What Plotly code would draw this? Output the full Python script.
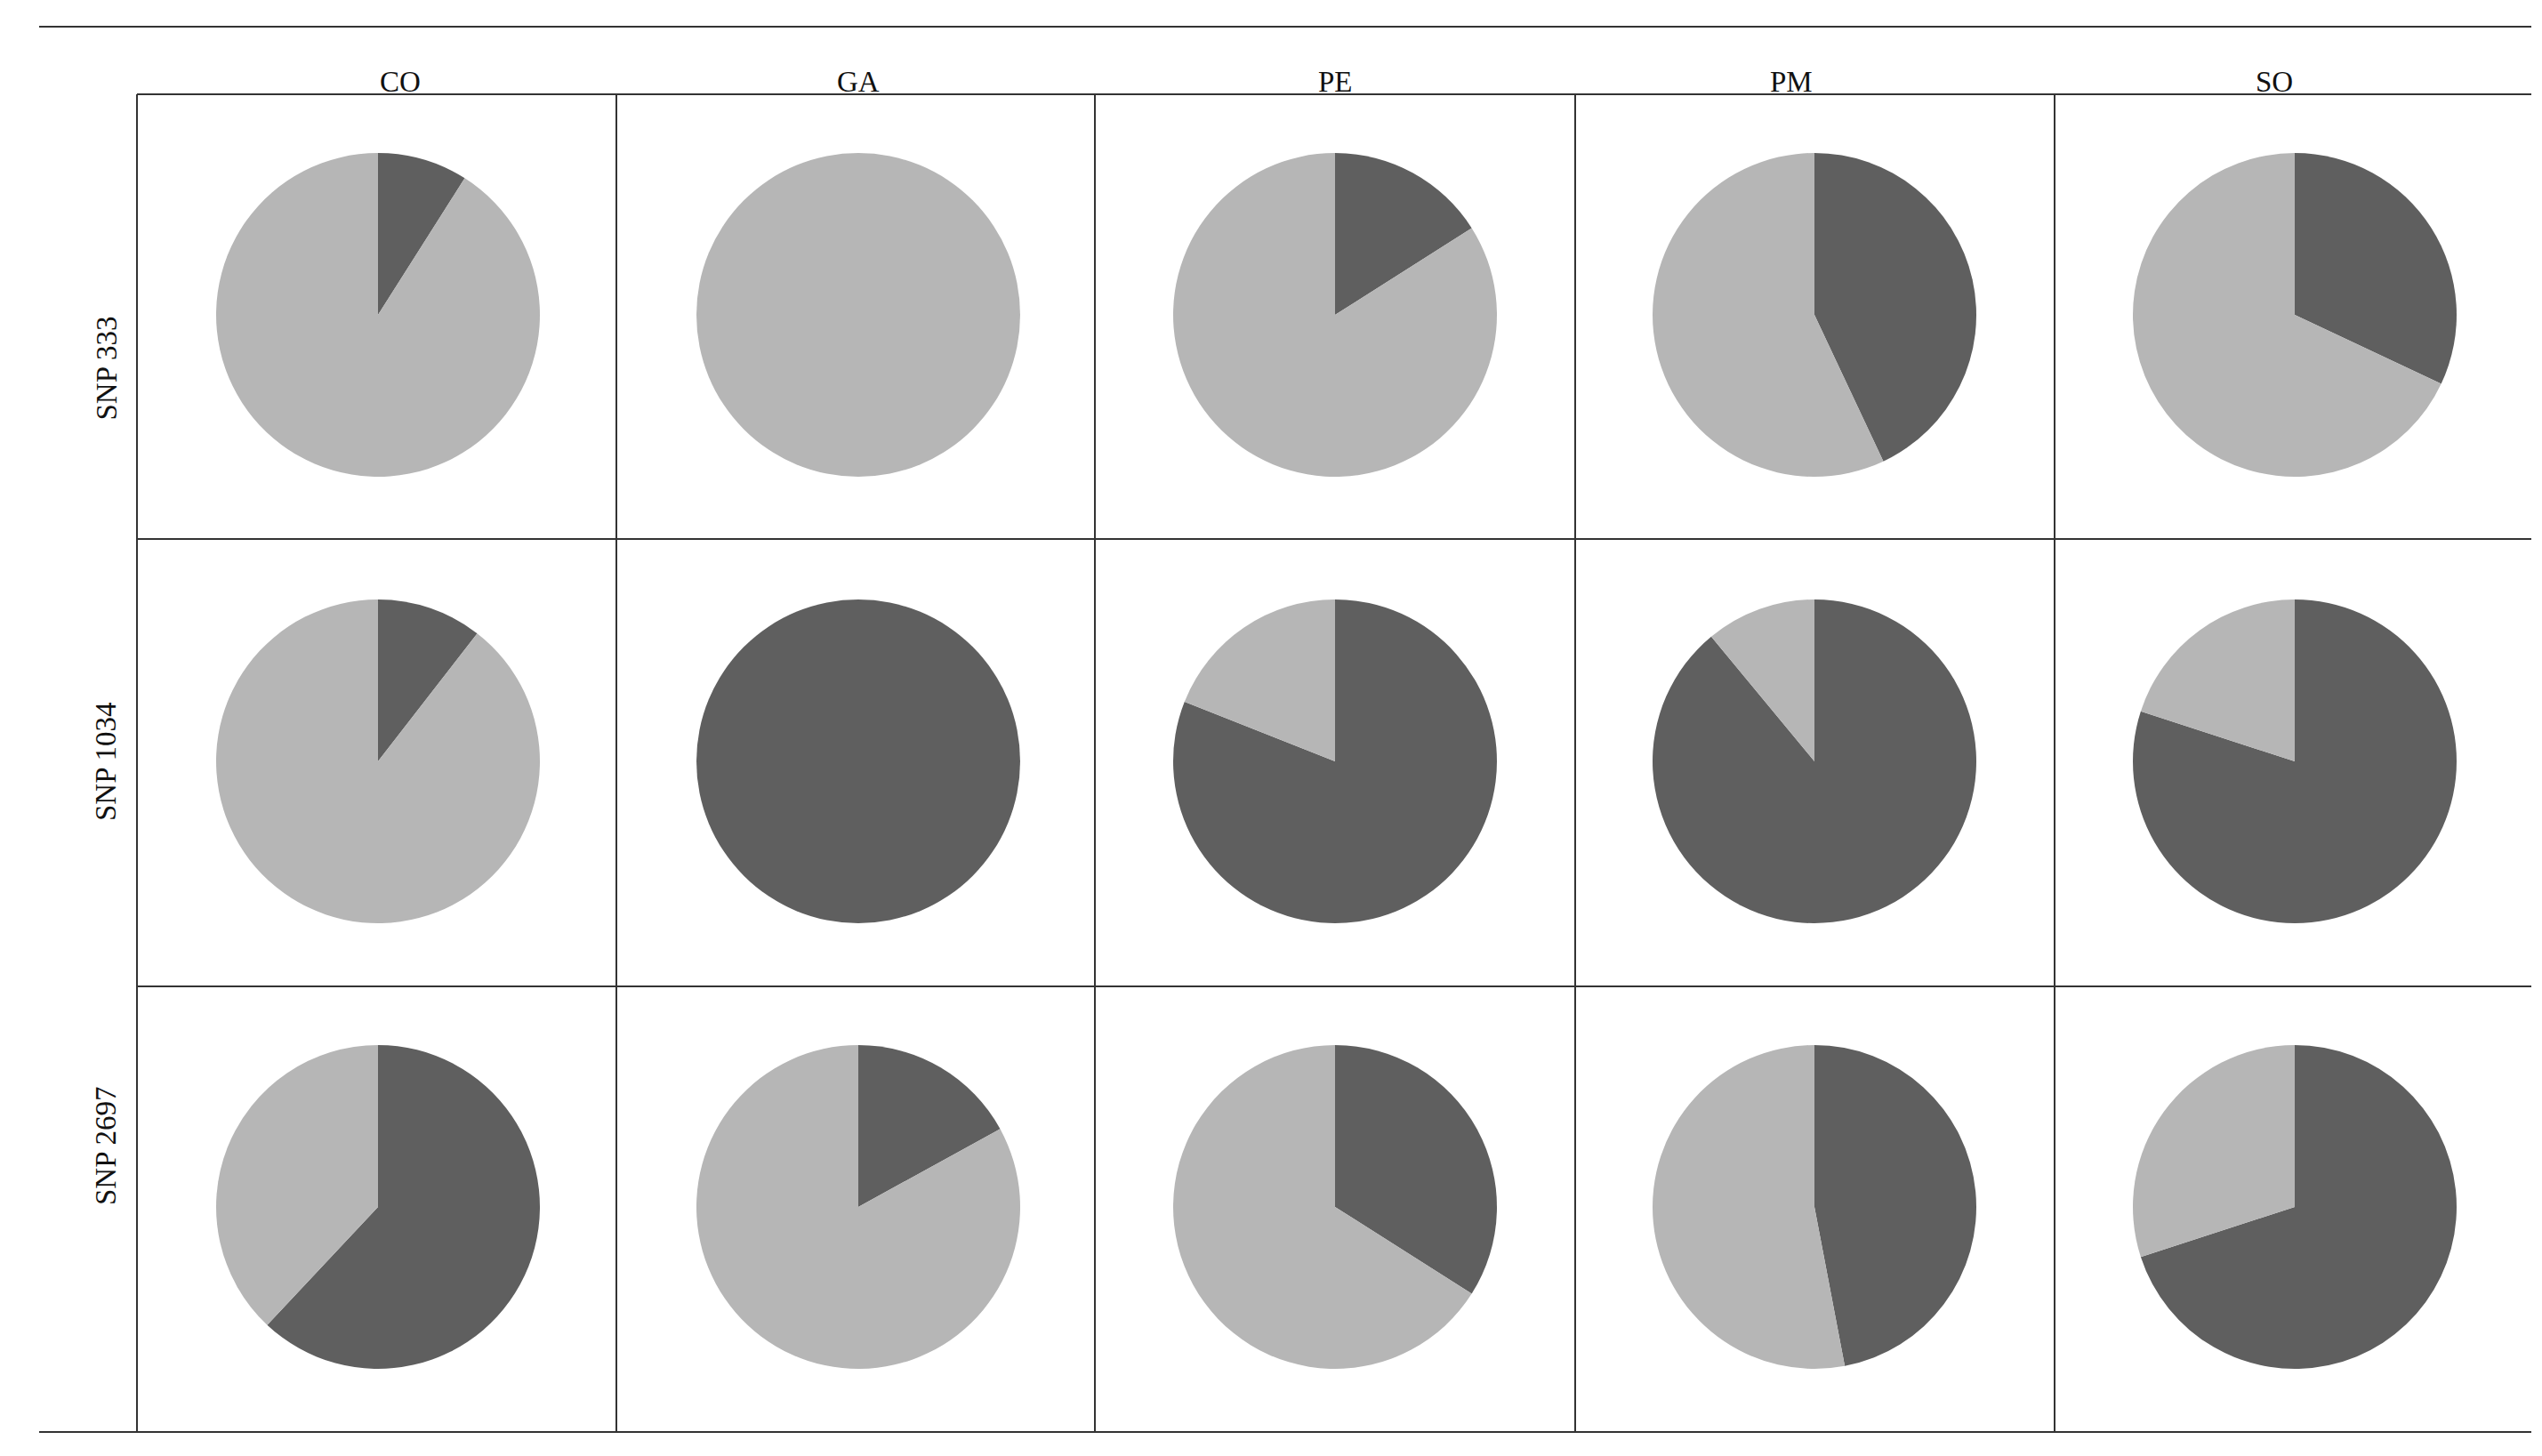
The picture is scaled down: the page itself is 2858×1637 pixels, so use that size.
import plotly.graph_objects as go

populations = ["CO", "GA", "PE", "PM", "SO"]
snps = ["SNP 333", "SNP 1034", "SNP 2697"]
# fraction of dark allele per SNP (rows) and population (columns)
dark_frac = [
    [0.09, 0.00, 0.16, 0.43, 0.32],
    [0.105, 1.00, 0.81, 0.89, 0.80],
    [0.62, 0.17, 0.34, 0.47, 0.70],
]
DARK, LIGHT = "#5f5f5f", "#b6b6b6"

W, H = 2858, 1637
col_cx = [417, 957, 1493, 2032, 2572]
row_cy = [346, 848, 1349]
R = 182

fig = go.Figure()
for r, cy in enumerate(row_cy):
    for c, cx in enumerate(col_cx):
        d = dark_frac[r][c]
        fig.add_trace(go.Pie(
            values=[d, 1 - d], labels=["dark", "light"], sort=False,
            direction="clockwise", rotation=0,
            marker=dict(colors=[DARK, LIGHT], line=dict(width=0)),
            textinfo="none", hoverinfo="skip", showlegend=False,
            domain=dict(x=[(cx - R) / W, (cx + R) / W],
                        y=[1 - (cy + R) / H, 1 - (cy - R) / H]),
        ))

def px(x): return x / W
def py(y): return 1 - y / H

shapes = []
line = dict(color="#333333", width=2)
shapes.append(dict(type="line", xref="paper", yref="paper", x0=px(36), x1=px(2838), y0=py(22), y1=py(22), line=line))
shapes.append(dict(type="line", xref="paper", yref="paper", x0=px(146), x1=px(2838), y0=py(98), y1=py(98), line=line))
for y in [598, 1101]:
    shapes.append(dict(type="line", xref="paper", yref="paper", x0=px(146), x1=px(2838), y0=py(y), y1=py(y), line=line))
shapes.append(dict(type="line", xref="paper", yref="paper", x0=px(36), x1=px(2838), y0=py(1602), y1=py(1602), line=line))
for x in [146, 685, 1223, 1763, 2302]:
    shapes.append(dict(type="line", xref="paper", yref="paper", x0=px(x), x1=px(x), y0=py(98), y1=py(1602), line=line))

ann = []
font = dict(family="Liberation Serif", size=33, color="#111111")
for p, cx in zip(populations, col_cx):
    ann.append(dict(text=p, x=px(cx), y=py(64), xref="paper", yref="paper", showarrow=False, font=font))
for s, cy in zip(snps, row_cy):
    ann.append(dict(text=s, x=px(91), y=py(cy), xref="paper", yref="paper", showarrow=False, font=font, textangle=-90))

fig.update_layout(width=W, height=H, margin=dict(l=0, r=0, t=0, b=0),
                  paper_bgcolor="white", plot_bgcolor="white",
                  shapes=shapes, annotations=ann)
fig.write_html("out.html")
